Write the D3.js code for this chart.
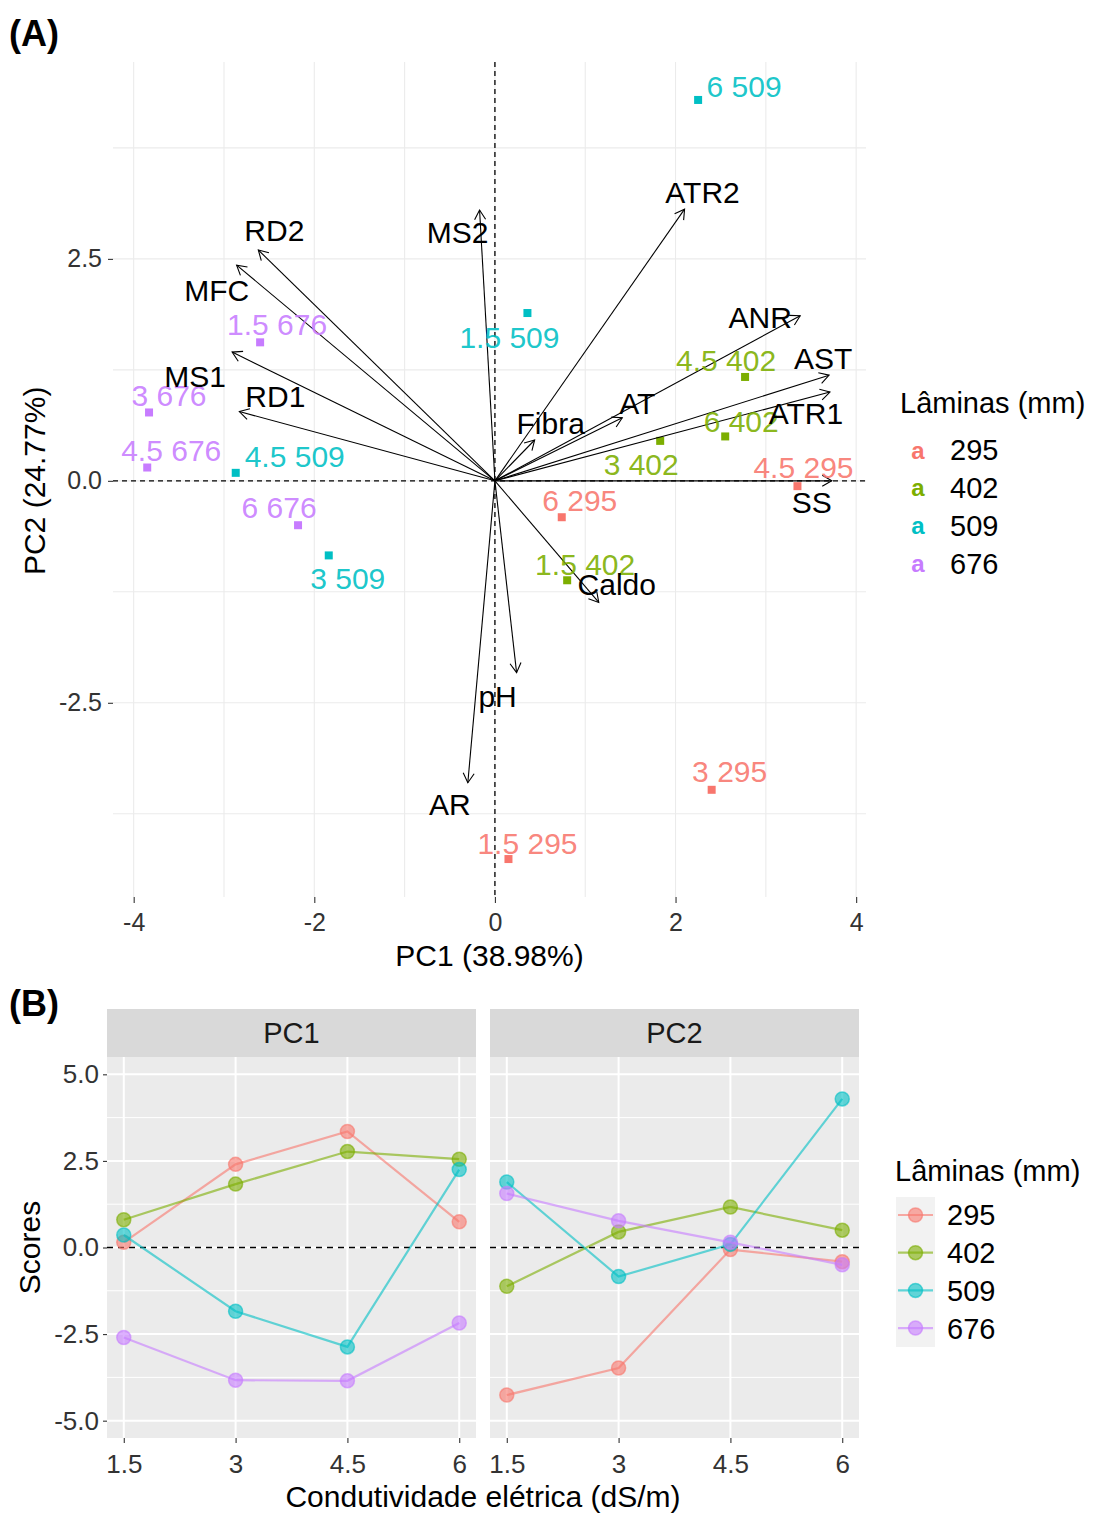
<!DOCTYPE html>
<html>
<head>
<meta charset="utf-8">
<script src="https://cdn.jsdelivr.net/npm/d3@7"></script>
<style>
  html, body { margin: 0; padding: 0; background: #ffffff; }
  svg { display: block; font-family: "Liberation Sans", Arial, sans-serif; }
</style>
</head>
<body>
<svg id="fig" width="1101" height="1513"></svg>
<script>
// ---------- data ----------
const conductivity = [1.5, 3, 4.5, 6];             // dS/m
const laminas = ["295", "402", "509", "676"];      // mm
const laminaColors = ["#F8766D", "#7CAE00", "#00BFC4", "#C77CFF"];

// PCA scores, one row per lâmina, one value per conductivity level
const pc1Scores = [
  [0.15, 2.40, 3.35, 0.74],
  [0.80, 1.83, 2.77, 2.55],
  [0.36, -1.84, -2.87, 2.25],
  [-2.60, -3.83, -3.85, -2.18]
];
const pc2Scores = [
  [-4.26, -3.48, -0.06, -0.41],
  [-1.12, 0.45, 1.17, 0.50],
  [1.89, -0.84, 0.09, 4.29],
  [1.56, 0.77, 0.15, -0.50]
];

// variable loadings (biplot arrows)
const loadingVars = ["RD2", "MFC", "MS1", "RD1", "MS2", "ATR2", "ANR", "AST", "ATR1", "AT", "Fibra", "SS", "Caldo", "pH", "AR"];
const loadingPC1 = [-2.62, -2.86, -2.91, -2.83, -0.17, 2.10, 3.38, 3.70, 3.71, 1.41, 0.44, 3.73, 1.15, 0.24, -0.30];
const loadingPC2 = [2.60, 2.43, 1.45, 0.78, 3.05, 3.06, 1.86, 1.19, 1.00, 0.71, 0.46, 0.00, -1.37, -2.16, -3.40];

const pc1Label = "PC1 (38.98%)";
const pc2Label = "PC2 (24.77%)";
const legendTitle = "Lâminas (mm)";
const facetNames = ["PC1", "PC2"];
const ticksA_x = [-4, -2, 0, 2, 4];
const ticksA_y = [-2.5, 0, 2.5];
const ticksB_y = [-5, -2.5, 0, 2.5, 5];

// ---------- label placement (pixel offsets of text centre from its mark) ----------
const scoreLabelOffset = {
  "1.5 295": [19, -16], "3 295": [18, -19], "4.5 295": [6, -19], "6 295": [18, -17],
  "1.5 402": [18, -16], "3 402": [-19, 23], "4.5 402": [-19, -17], "6 402": [16, -15],
  "1.5 509": [-18, 24], "3 509": [19, 23], "4.5 509": [59, -17], "6 509": [46, -14],
  "1.5 676": [17, -18], "3 676": [20, -17], "4.5 676": [24, -17], "6 676": [-19, -18]
};
const loadingLabelOffset = {
  RD2: [16, -20], MFC: [-20, 25], MS1: [-37, 24], RD1: [36, -15], MS2: [-22, 22],
  ATR2: [18, -17], ANR: [-40, 2], AST: [-6, -17], ATR1: [-24, 21], AT: [15, -15],
  Fibra: [16, -17], SS: [-20, 21], Caldo: [18, -18], pH: [-19, 24], AR: [-18, 22]
};

// ---------- helpers ----------
const svg = d3.select("#fig");
svg.append("rect").attr("width", 1101).attr("height", 1513).attr("fill", "#fff");

function expand(ext, mult) {
  const r = ext[1] - ext[0];
  return [ext[0] - r * mult, ext[1] + r * mult];
}

// long-format score table
const samples = [];
laminas.forEach((lam, li) => {
  conductivity.forEach((ce, ci) => {
    samples.push({ lam, li, ce, pc1: pc1Scores[li][ci], pc2: pc2Scores[li][ci], label: `${ce} ${lam}` });
  });
});
const loadings = loadingVars.map((v, i) => ({ name: v, x: loadingPC1[i], y: loadingPC2[i] }));

// ================= Panel A : biplot =================
const A = { left: 113, right: 866, top: 62, bottom: 897 };
const xExtA = d3.extent([...samples.map(d => d.pc1), ...loadings.map(d => d.x), 0]);
const yExtA = d3.extent([...samples.map(d => d.pc2), ...loadings.map(d => d.y), 0]);
const xA = d3.scaleLinear().domain(expand(xExtA, 0.05)).range([A.left, A.right]);
const yA = d3.scaleLinear().domain(expand(yExtA, 0.05)).range([A.bottom, A.top]);

const gA = svg.append("g");

// grid (major + minor)
const gridCol = "#EBEBEB";
const xGridA = d3.range(-4, 4.01, 1);
const yGridA = [-3.75, -2.5, -1.25, 0, 1.25, 2.5, 3.75];
gA.append("g").selectAll("line").data(xGridA).join("line")
  .attr("x1", d => xA(d)).attr("x2", d => xA(d))
  .attr("y1", A.top).attr("y2", A.bottom)
  .attr("stroke", gridCol).attr("stroke-width", 1.1);
gA.append("g").selectAll("line").data(yGridA).join("line")
  .attr("y1", d => yA(d)).attr("y2", d => yA(d))
  .attr("x1", A.left).attr("x2", A.right)
  .attr("stroke", gridCol).attr("stroke-width", 1.1);

// axes
const axA_x = gA.append("g").attr("transform", `translate(0,${A.bottom})`)
  .call(d3.axisBottom(xA).tickValues(ticksA_x).tickFormat(d3.format("d")).tickSize(6).tickPadding(10));
const axA_y = gA.append("g").attr("transform", `translate(${A.left},0)`)
  .call(d3.axisLeft(yA).tickValues(ticksA_y).tickFormat(d3.format(".1f")).tickSize(5).tickPadding(6));
[axA_x, axA_y].forEach(ax => {
  ax.select(".domain").remove();
  ax.selectAll(".tick line").attr("stroke", "#333").attr("stroke-width", 1.1);
  ax.selectAll(".tick text").attr("fill", "#333").attr("font-size", 25)
    .attr("font-family", "Liberation Sans, Arial, sans-serif");
});
axA_x.selectAll(".tick text").text(d => d < 0 ? "-" + Math.abs(d) : d);
axA_y.selectAll(".tick text").text(d => (d < 0 ? "-" : "") + Math.abs(d).toFixed(1));

// reference lines
gA.append("line").attr("x1", xA(0)).attr("x2", xA(0)).attr("y1", A.top).attr("y2", A.bottom)
  .attr("stroke", "#000").attr("stroke-width", 1.3).attr("stroke-dasharray", "5,4");
gA.append("line").attr("y1", yA(0)).attr("y2", yA(0)).attr("x1", A.left).attr("x2", A.right)
  .attr("stroke", "#000").attr("stroke-width", 1.3).attr("stroke-dasharray", "5,4");

// score points
gA.append("g").selectAll("rect").data(samples).join("rect")
  .attr("x", d => xA(d.pc1) - 4).attr("y", d => yA(d.pc2) - 4)
  .attr("width", 8).attr("height", 8)
  .attr("fill", d => laminaColors[d.li]);

// loading arrows
const arrows = gA.append("g");
loadings.forEach(d => {
  const x0 = xA(0), y0 = yA(0), x1 = xA(d.x), y1 = yA(d.y);
  arrows.append("line").attr("x1", x0).attr("y1", y0).attr("x2", x1).attr("y2", y1)
    .attr("stroke", "#000").attr("stroke-width", 1.1);
  const ang = Math.atan2(y1 - y0, x1 - x0);
  const L = 11, spread = Math.PI / 6;
  const p = [ang + Math.PI - spread, ang + Math.PI + spread].map(a => [x1 + L * Math.cos(a), y1 + L * Math.sin(a)]);
  arrows.append("path")
    .attr("d", `M${p[0][0]},${p[0][1]}L${x1},${y1}L${p[1][0]},${p[1][1]}`)
    .attr("fill", "none").attr("stroke", "#000").attr("stroke-width", 1.1);
});

// score labels
gA.append("g").selectAll("text").data(samples).join("text")
  .attr("x", d => xA(d.pc1) + scoreLabelOffset[d.label][0])
  .attr("y", d => yA(d.pc2) + scoreLabelOffset[d.label][1])
  .attr("dy", "0.36em").attr("text-anchor", "middle")
  .attr("font-size", 30).attr("fill", d => laminaColors[d.li]).attr("fill-opacity", 0.9)
  .text(d => d.label);

// loading labels
gA.append("g").selectAll("text").data(loadings).join("text")
  .attr("x", d => xA(d.x) + loadingLabelOffset[d.name][0])
  .attr("y", d => yA(d.y) + loadingLabelOffset[d.name][1])
  .attr("dy", "0.36em").attr("text-anchor", "middle")
  .attr("font-size", 30).attr("fill", "#000")
  .text(d => d.name);

// axis titles
gA.append("text").attr("x", (A.left + A.right) / 2).attr("y", 966)
  .attr("text-anchor", "middle").attr("font-size", 30).text(pc1Label);
gA.append("text").attr("transform", `translate(45,${yA(0)}) rotate(-90)`)
  .attr("text-anchor", "middle").attr("font-size", 30).text(pc2Label);

// legend A (text keys)
const legA = svg.append("g").attr("transform", "translate(900,0)");
legA.append("text").attr("x", 0).attr("y", 413).attr("font-size", 29).text(legendTitle);
laminas.forEach((lam, i) => {
  const cy = 450 + i * 37.7;
  legA.append("text").attr("x", 18).attr("y", cy).attr("dy", "0.36em").attr("text-anchor", "middle")
    .attr("font-size", 24).attr("font-weight", "bold").attr("fill", laminaColors[i]).text("a");
  legA.append("text").attr("x", 50).attr("y", cy).attr("dy", "0.36em")
    .attr("font-size", 29).attr("fill", "#000").text(lam);
});

// panel tag
svg.append("text").attr("x", 9).attr("y", 46).attr("font-size", 36).attr("font-weight", "bold").text("(A)");

// ================= Panel B : scores vs conductivity =================
const B = { top: 1057, bottom: 1438, stripTop: 1009 };
const facets = [
  { name: facetNames[0], left: 107, right: 476, scores: pc1Scores },
  { name: facetNames[1], left: 490, right: 859, scores: pc2Scores }
];
const yB = d3.scaleLinear().domain(expand([-5, 5], 0.05)).range([B.bottom, B.top]);
const line = d3.line();

facets.forEach((f, fi) => {
  const xB = d3.scaleLinear().domain(expand(d3.extent(conductivity), 0.05)).range([f.left, f.right]);
  const g = svg.append("g");
  // strip
  g.append("rect").attr("x", f.left).attr("y", B.stripTop).attr("width", f.right - f.left)
    .attr("height", B.top - B.stripTop).attr("fill", "#D9D9D9");
  g.append("text").attr("x", (f.left + f.right) / 2).attr("y", (B.stripTop + B.top) / 2).attr("dy", "0.36em")
    .attr("text-anchor", "middle").attr("font-size", 29).attr("fill", "#1A1A1A").text(f.name);
  // panel background
  g.append("rect").attr("x", f.left).attr("y", B.top).attr("width", f.right - f.left)
    .attr("height", B.bottom - B.top).attr("fill", "#EBEBEB");
  // minor & major grid
  g.append("g").selectAll("line").data([-3.75, -1.25, 1.25, 3.75]).join("line")
    .attr("x1", f.left).attr("x2", f.right).attr("y1", d => yB(d)).attr("y2", d => yB(d))
    .attr("stroke", "#fff").attr("stroke-width", 1);
  g.append("g").selectAll("line").data(ticksB_y).join("line")
    .attr("x1", f.left).attr("x2", f.right).attr("y1", d => yB(d)).attr("y2", d => yB(d))
    .attr("stroke", "#fff").attr("stroke-width", 2);
  g.append("g").selectAll("line").data(conductivity).join("line")
    .attr("x1", d => xB(d)).attr("x2", d => xB(d)).attr("y1", B.top).attr("y2", B.bottom)
    .attr("stroke", "#fff").attr("stroke-width", 2);
  // zero line
  g.append("line").attr("x1", f.left).attr("x2", f.right).attr("y1", yB(0)).attr("y2", yB(0))
    .attr("stroke", "#000").attr("stroke-width", 1.4).attr("stroke-dasharray", "6,5");
  // series
  laminas.forEach((lam, li) => {
    const pts = conductivity.map((c, ci) => [xB(c), yB(f.scores[li][ci])]);
    g.append("path").attr("d", line(pts)).attr("fill", "none")
      .attr("stroke", laminaColors[li]).attr("stroke-width", 2.2).attr("stroke-opacity", 0.6);
    g.append("g").selectAll("circle").data(pts).join("circle")
      .attr("cx", d => d[0]).attr("cy", d => d[1]).attr("r", 7)
      .attr("fill", laminaColors[li]).attr("fill-opacity", 0.6)
      .attr("stroke", laminaColors[li]).attr("stroke-opacity", 0.6).attr("stroke-width", 1.5);
  });
  // x axis
  const ax = g.append("g").attr("transform", `translate(0,${B.bottom})`)
    .call(d3.axisBottom(xB).tickValues(conductivity).tickFormat(d => String(d)).tickSize(5).tickPadding(12));
  ax.select(".domain").remove();
  ax.selectAll(".tick line").attr("stroke", "#333").attr("stroke-width", 1.1);
  ax.selectAll(".tick text").attr("fill", "#333").attr("font-size", 26)
    .attr("font-family", "Liberation Sans, Arial, sans-serif");
  if (fi === 0) {
    const ay = g.append("g").attr("transform", `translate(${f.left},0)`)
      .call(d3.axisLeft(yB).tickValues(ticksB_y).tickSize(4).tickPadding(4));
    ay.select(".domain").remove();
    ay.selectAll(".tick line").attr("stroke", "#333").attr("stroke-width", 1.1);
    ay.selectAll(".tick text").attr("fill", "#333").attr("font-size", 26)
      .attr("font-family", "Liberation Sans, Arial, sans-serif")
      .text(d => (d < 0 ? "-" : "") + Math.abs(d).toFixed(1));
  }
});

// axis titles B
svg.append("text").attr("x", 483).attr("y", 1507).attr("text-anchor", "middle").attr("font-size", 30)
  .text("Condutividade elétrica (dS/m)");
svg.append("text").attr("transform", `translate(40,${yB(0)}) rotate(-90)`).attr("text-anchor", "middle")
  .attr("font-size", 30).text("Scores");

// legend B (line + point keys)
const legB = svg.append("g").attr("transform", "translate(895,0)");
legB.append("text").attr("x", 0).attr("y", 1181).attr("font-size", 29).text(legendTitle);
legB.append("rect").attr("x", 1).attr("y", 1197).attr("width", 39).attr("height", 150).attr("fill", "#F2F2F2");
laminas.forEach((lam, i) => {
  const cy = 1215 + i * 37.7;
  legB.append("line").attr("x1", 3).attr("x2", 38).attr("y1", cy).attr("y2", cy)
    .attr("stroke", laminaColors[i]).attr("stroke-width", 2.2).attr("stroke-opacity", 0.6);
  legB.append("circle").attr("cx", 20.5).attr("cy", cy).attr("r", 7)
    .attr("fill", laminaColors[i]).attr("fill-opacity", 0.6)
    .attr("stroke", laminaColors[i]).attr("stroke-opacity", 0.6).attr("stroke-width", 1.5);
  legB.append("text").attr("x", 52).attr("y", cy).attr("dy", "0.36em").attr("font-size", 29).text(lam);
});

svg.append("text").attr("x", 9).attr("y", 1016).attr("font-size", 36).attr("font-weight", "bold").text("(B)");
</script>
</body>
</html>
